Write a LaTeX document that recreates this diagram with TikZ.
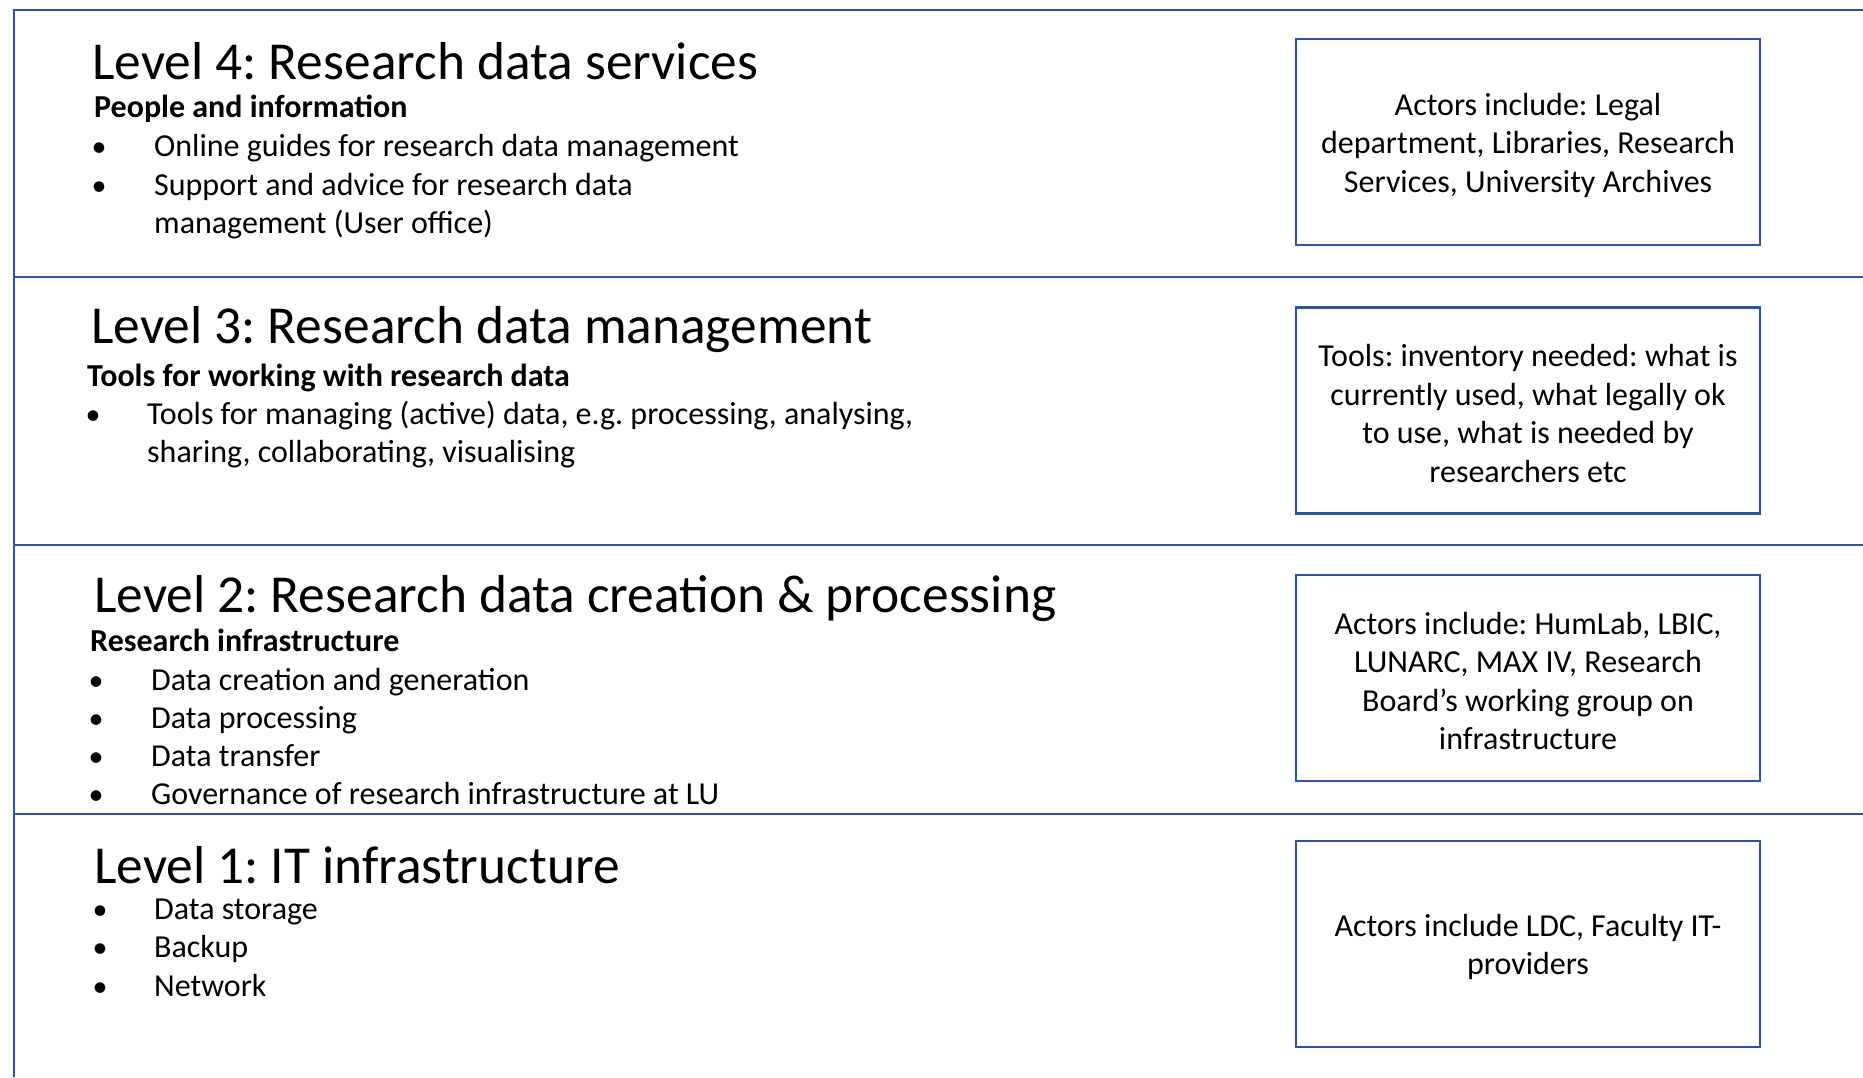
\documentclass[tikz,border=0pt]{standalone}
\usepackage{fontspec}
\setmainfont{Carlito}
\frenchspacing
\definecolor{lublue}{RGB}{47,85,151}
\tikzset{
  heading/.style={anchor=base west, inner sep=0pt, font=\fontsize{53.4}{64}\selectfont},
  subhead/.style={anchor=base west, inner sep=0pt, font=\bfseries\fontsize{32}{38.5}\selectfont},
  item/.style={anchor=base west, inner sep=0pt, font=\fontsize{32}{38.5}\selectfont},
  bul/.style={anchor=base, inner sep=0pt, font=\fontsize{30}{36}\selectfont},
  actorbox/.style={draw=lublue, line width=2.6pt, minimum width=464pt, minimum height=206pt, inner sep=0pt},
  boxtext/.style={align=center, inner sep=0pt, yshift=-3pt, font=\fontsize{32}{38.5}\selectfont},
  rule/.style={draw=lublue, line width=2.8pt}
}
\begin{document}
\begin{tikzpicture}[x=1pt,y=-1pt]
\useasboundingbox (0,0) rectangle (1863,1077);
% frame lines
\coordinate (tl) at (14,10);
\coordinate (tr) at (1863,10);
\coordinate (bl) at (14,1077);
\draw[rule] (tr) -- (tl) -- (bl);
\foreach \yy in {277,545,814}{
  \draw[rule] (14,\yy) -- (1863,\yy);
}
% Level 4
\node[heading] (h4) at (92,79) {Level 4: Research data services};
\node[subhead] (s4) at (94,117.5) {People and information};
\node[bul] (b4a) at (99,156.5) {\textbullet};
\node[item] (t4a) at (154,156.5) {Online guides for research data management};
\node[bul] (b4b) at (99,195) {\textbullet};
\node[item] (t4b) at (154,195) {Support and advice for research data};
\node[item] (t4c) at (154,233) {management (User office)};
\node[actorbox] (a4box) at (1528,142) {};
\node[boxtext] (a4) at (a4box.center) {Actors include: Legal\\department, Libraries, Research\\Services, University Archives};
% Level 3
\node[heading] (h3) at (91,343) {Level 3: Research data management};
\node[subhead] (s3) at (87,386) {Tools for working with research data};
\node[bul] (b3a) at (93,424) {\textbullet};
\node[item] (t3a) at (147,424) {Tools for managing (active) data, e.g. processing, analysing,};
\node[item] (t3b) at (147,462.5) {sharing, collaborating, visualising};
\node[actorbox] (a3box) at (1528,410.5) {};
\node[boxtext] (a3) at (a3box.center) {Tools: inventory needed: what is\\currently used, what legally ok\\to use, what is needed by\\researchers etc};
% Level 2
\node[heading] (h2) at (94,612) {Level 2: Research data creation \& processing};
\node[subhead] (s2) at (90,651) {Research infrastructure};
\node[bul] (b2a) at (96,690) {\textbullet};
\node[item] (t2a) at (151,690) {Data creation and generation};
\node[bul] (b2b) at (96,728) {\textbullet};
\node[item] (t2b) at (151,728) {Data processing};
\node[bul] (b2c) at (96,766) {\textbullet};
\node[item] (t2c) at (151,766) {Data transfer};
\node[bul] (b2d) at (96,804) {\textbullet};
\node[item] (t2d) at (151,804) {Governance of research infrastructure at LU};
\node[actorbox] (a2box) at (1528,678) {};
\node[boxtext] (a2) at (a2box.center) {Actors include: HumLab, LBIC,\\LUNARC, MAX IV, Research\\Board’s working group on\\infrastructure};
% Level 1
\node[heading] (h1) at (94,883) {Level 1: IT infrastructure};
\node[bul] (b1a) at (100,919.5) {\textbullet};
\node[item] (t1a) at (154,919.5) {Data storage};
\node[bul] (b1b) at (100,957.5) {\textbullet};
\node[item] (t1b) at (154,957.5) {Backup};
\node[bul] (b1c) at (100,996) {\textbullet};
\node[item] (t1c) at (154,996) {Network};
\node[actorbox] (a1box) at (1528,944) {};
\node[boxtext] (a1) at (a1box.center) {Actors include LDC, Faculty IT-\\providers};
\end{tikzpicture}
\end{document}
